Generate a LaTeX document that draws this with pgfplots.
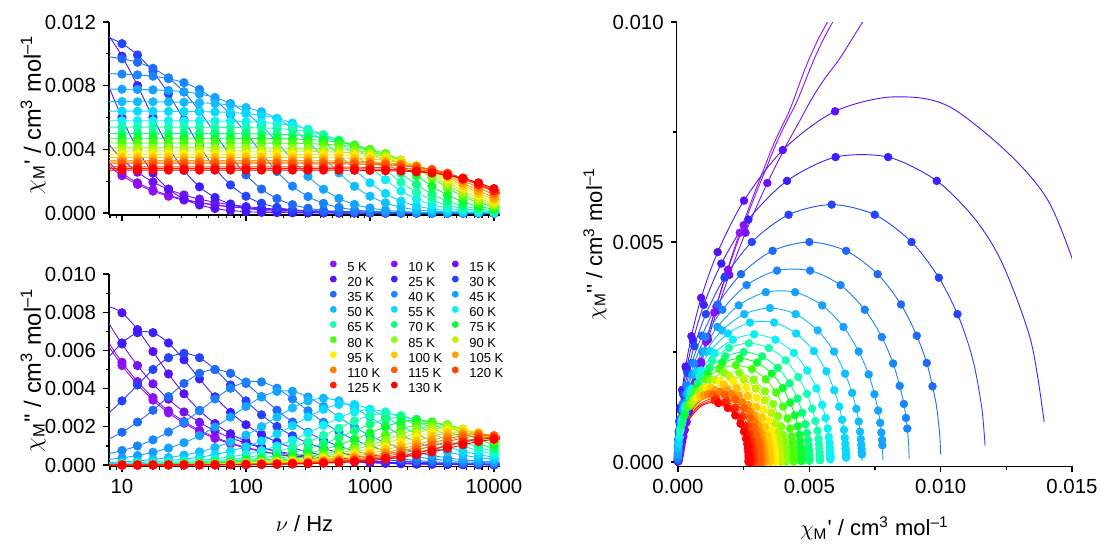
\documentclass[border=0pt]{standalone}
\usepackage{fontspec}
\setmainfont{Liberation Sans}
\usepackage{pgfplots}
\usepackage{pgfplotstable}
\pgfplotsset{compat=1.18}

\definecolor{cA}{Hsb}{276,0.93,0.95}
\definecolor{cB}{Hsb}{272,0.93,0.95}
\definecolor{cC}{Hsb}{266,0.93,0.96}
\definecolor{cD}{Hsb}{258,0.93,0.98}
\definecolor{cE}{Hsb}{248,0.88,1}
\definecolor{cF}{Hsb}{232,0.85,1}
\definecolor{cG}{Hsb}{220,0.87,0.98}
\definecolor{cH}{Hsb}{212,0.9,1}
\definecolor{cI}{Hsb}{204,0.92,1}
\definecolor{cJ}{Hsb}{197,0.93,1}
\definecolor{cK}{Hsb}{189,0.97,1}
\definecolor{cL}{Hsb}{180,0.95,0.95}
\definecolor{cM}{Hsb}{160,0.9,1}
\definecolor{cN}{Hsb}{148,0.95,1}
\definecolor{cO}{Hsb}{128,0.95,1}
\definecolor{cP}{Hsb}{105,0.95,1}
\definecolor{cQ}{Hsb}{90,0.95,1}
\definecolor{cR}{Hsb}{73,0.97,0.95}
\definecolor{cS}{Hsb}{56,1,1}
\definecolor{cT}{Hsb}{47,1,1}
\definecolor{cU}{Hsb}{38,1,1}
\definecolor{cV}{Hsb}{30,1,1}
\definecolor{cW}{Hsb}{22,1,1}
\definecolor{cX}{Hsb}{15,1,1}
\definecolor{cY}{Hsb}{8,1,1}
\definecolor{cZ}{Hsb}{0,1,1}

% columns: f = frequency (Hz), a = chi' , b = chi''  (cm3 mol-1)
\pgfplotstableread[row sep=\\]{f a b\\
1 0.01967 0.01751\\ 3.162 0.00717 0.01116\\ 5.623 0.0041 0.0078\\ 7.499 0.0031 0.0064\\
10 0.00235 0.00521\\ 13.34 0.0018 0.00422\\ 17.78 0.00138 0.0034\\ 23.71 0.00106 0.00273\\ 31.62 0.00082 0.00219\\
42.17 0.00064 0.00175\\ 56.23 0.0005 0.0014\\ 74.99 0.00039 0.00112\\ 100 0.00031 0.00089\\ 133.4 0.00024 0.00071\\
177.8 0.00019 0.00056\\ 237.1 0.00015 0.00045\\ 316.2 0.00012 0.00036\\ 421.7 0.00009 0.00028\\ 562.3 0.00007 0.00023\\
749.9 0.00006 0.00018\\ 1000 0.00005 0.00014\\ 1334 0.00004 0.00011\\ 1778 0.00003 0.00009\\ 2371 0.00002 0.00007\\
3162 0.00002 0.00006\\ 4217 0.00001 0.00005\\ 5623 0.00001 0.00004\\ 7499 0.00001 0.00003\\ 10000 0.00001 0.00002\\
13335 0.00001 0.00002\\ 17783 0 0.00001\\ 31623 0 0.00001\\ 100000 0 0\\ 1000000 0 0\\}\dA
\pgfplotstableread[row sep=\\]{f a b\\
1 0.02029 0.01686\\ 3.162 0.00762 0.01129\\ 5.623 0.00436 0.00799\\ 7.499 0.0033 0.00659\\
10 0.0025 0.00538\\ 13.34 0.0019 0.00437\\ 17.78 0.00146 0.00353\\ 23.71 0.00112 0.00284\\ 31.62 0.00087 0.00228\\
42.17 0.00067 0.00182\\ 56.23 0.00052 0.00146\\ 74.99 0.00041 0.00116\\ 100 0.00032 0.00093\\ 133.4 0.00025 0.00074\\
177.8 0.0002 0.00059\\ 237.1 0.00016 0.00047\\ 316.2 0.00012 0.00037\\ 421.7 0.0001 0.0003\\ 562.3 0.00008 0.00023\\
749.9 0.00006 0.00019\\ 1000 0.00005 0.00015\\ 1334 0.00004 0.00012\\ 1778 0.00003 0.00009\\ 2371 0.00002 0.00007\\
3162 0.00002 0.00006\\ 4217 0.00002 0.00005\\ 5623 0.00001 0.00004\\ 7499 0.00001 0.00003\\ 10000 0.00001 0.00002\\
13335 0.00001 0.00002\\ 17783 0 0.00001\\ 31623 0 0.00001\\ 100000 0 0\\ 1000000 0 0\\}\dB
\pgfplotstableread[row sep=\\]{f a b\\
1 0.02275 0.01368\\ 3.162 0.01013 0.01181\\ 5.623 0.00595 0.009\\ 7.499 0.0045 0.00761\\
10 0.0034 0.00634\\ 13.34 0.00257 0.00521\\ 17.78 0.00195 0.00425\\ 23.71 0.00149 0.00345\\ 31.62 0.00114 0.00278\\
42.17 0.00088 0.00224\\ 56.23 0.00068 0.00179\\ 74.99 0.00053 0.00143\\ 100 0.00041 0.00115\\ 133.4 0.00032 0.00091\\
177.8 0.00025 0.00073\\ 237.1 0.0002 0.00058\\ 316.2 0.00016 0.00046\\ 421.7 0.00012 0.00037\\ 562.3 0.0001 0.00029\\
749.9 0.00008 0.00023\\ 1000 0.00006 0.00018\\ 1334 0.00005 0.00015\\ 1778 0.00004 0.00012\\ 2371 0.00003 0.00009\\
3162 0.00002 0.00007\\ 4217 0.00002 0.00006\\ 5623 0.00002 0.00005\\ 7499 0.00001 0.00004\\ 10000 0.00001 0.00003\\
13335 0.00001 0.00002\\ 17783 0.00001 0.00002\\ 31623 0 0.00001\\ 100000 0 0\\ 1000000 0 0\\}\dC
\pgfplotstableread[row sep=\\]{f a b\\
1 0.01631 0.00217\\ 3.162 0.01409 0.00594\\ 5.623 0.01063 0.00797\\ 7.499 0.0083 0.0083\\
10 0.00598 0.00797\\ 13.34 0.00399 0.00709\\ 17.78 0.00251 0.00594\\ 23.71 0.00151 0.00477\\ 31.62 0.00088 0.00373\\
42.17 0.00051 0.00286\\ 56.23 0.00029 0.00217\\ 74.99 0.00016 0.00164\\ 100 0.00009 0.00124\\ 133.4 0.00005 0.00093\\
177.8 0.00003 0.0007\\ 237.1 0.00002 0.00052\\ 316.2 0.00001 0.00039\\ 421.7 0.00001 0.0003\\ 562.3 0 0.00022\\
749.9 0 0.00017\\ 1000 0 0.00012\\ 1334 0 0.00009\\ 1778 0 0.00007\\ 2371 0 0.00005\\
3162 0 0.00004\\ 4217 0 0.00003\\ 5623 0 0.00002\\ 7499 0 0.00002\\ 10000 0 0.00001\\
13335 0 0.00001\\ 17783 0 0.00001\\ 31623 0 0\\ 100000 0 0\\ 1000000 0 0\\}\dD
\pgfplotstableread[row sep=\\]{f a b\\
1 0.01394 0.00091\\ 3.162 0.01343 0.00276\\ 5.623 0.01235 0.00451\\ 7.499 0.01132 0.00551\\
10 0.00985 0.00639\\ 13.34 0.008 0.00693\\ 17.78 0.006 0.00693\\ 23.71 0.00415 0.00639\\ 31.62 0.00268 0.00551\\
42.17 0.00165 0.00451\\ 56.23 0.00098 0.00357\\ 74.99 0.00057 0.00276\\ 100 0.00032 0.00211\\ 133.4 0.00018 0.0016\\
177.8 0.0001 0.0012\\ 237.1 0.00006 0.00091\\ 316.2 0.00003 0.00068\\ 421.7 0.00002 0.00051\\ 562.3 0.00001 0.00038\\
749.9 0.00001 0.00029\\ 1000 0 0.00022\\ 1334 0 0.00016\\ 1778 0 0.00012\\ 2371 0 0.00009\\
3162 0 0.00007\\ 4217 0 0.00005\\ 5623 0 0.00004\\ 7499 0 0.00003\\ 10000 0 0.00002\\
13335 0 0.00002\\ 17783 0 0.00001\\ 31623 0 0.00001\\ 100000 0 0\\ 1000000 0 0\\}\dE
\pgfplotstableread[row sep=\\]{f a b\\
1 0.01169 0.00037\\ 3.162 0.01158 0.00116\\ 5.623 0.01134 0.00202\\ 7.499 0.01108 0.00263\\
10 0.01064 0.00336\\ 13.34 0.00993 0.00419\\ 17.78 0.00889 0.005\\ 23.71 0.00749 0.00562\\ 31.62 0.00585 0.00585\\
42.17 0.00421 0.00562\\ 56.23 0.00281 0.005\\ 74.99 0.00177 0.00419\\ 100 0.00106 0.00336\\ 133.4 0.00062 0.00263\\
177.8 0.00036 0.00202\\ 237.1 0.0002 0.00153\\ 316.2 0.00012 0.00116\\ 421.7 0.00007 0.00087\\ 562.3 0.00004 0.00066\\
749.9 0.00002 0.00049\\ 1000 0.00001 0.00037\\ 1334 0.00001 0.00028\\ 1778 0 0.00021\\ 2371 0 0.00016\\
3162 0 0.00012\\ 4217 0 0.00009\\ 5623 0 0.00007\\ 7499 0 0.00005\\ 10000 0 0.00004\\
13335 0 0.00003\\ 17783 0 0.00002\\ 31623 0 0.00001\\ 100000 0 0\\ 1000000 0 0\\}\dF
\pgfplotstableread[row sep=\\]{f a b\\
1 0.01 0.00018\\ 3.162 0.00997 0.00056\\ 5.623 0.0099 0.00099\\ 7.499 0.00983 0.00131\\
10 0.00969 0.00172\\ 13.34 0.00947 0.00225\\ 17.78 0.00909 0.00287\\ 23.71 0.00849 0.00358\\ 31.62 0.0076 0.00427\\
42.17 0.0064 0.0048\\ 56.23 0.005 0.005\\ 74.99 0.0036 0.0048\\ 100 0.0024 0.00427\\ 133.4 0.00151 0.00358\\
177.8 0.00091 0.00287\\ 237.1 0.00053 0.00225\\ 316.2 0.00031 0.00172\\ 421.7 0.00017 0.00131\\ 562.3 0.0001 0.00099\\
749.9 0.00006 0.00075\\ 1000 0.00003 0.00056\\ 1334 0.00002 0.00042\\ 1778 0.00001 0.00032\\ 2371 0.00001 0.00024\\
3162 0 0.00018\\ 4217 0 0.00013\\ 5623 0 0.0001\\ 7499 0 0.00008\\ 10000 0 0.00006\\
13335 0 0.00004\\ 17783 0 0.00003\\ 31623 0 0.00002\\ 100000 0 0.00001\\ 1000000 0 0\\}\dG
\pgfplotstableread[row sep=\\]{f a b\\
1 0.0088 0.00008\\ 3.162 0.00879 0.00024\\ 5.623 0.00878 0.00043\\ 7.499 0.00876 0.00057\\
10 0.00873 0.00076\\ 13.34 0.00868 0.001\\ 17.78 0.0086 0.00132\\ 23.71 0.00844 0.00173\\ 31.62 0.00819 0.00224\\
42.17 0.00776 0.00284\\ 56.23 0.00711 0.00346\\ 74.99 0.00619 0.00402\\ 100 0.00503 0.00435\\ 133.4 0.00377 0.00435\\
177.8 0.00261 0.00402\\ 237.1 0.00169 0.00346\\ 316.2 0.00104 0.00284\\ 421.7 0.00061 0.00224\\ 562.3 0.00036 0.00173\\
749.9 0.0002 0.00132\\ 1000 0.00012 0.001\\ 1334 0.00007 0.00076\\ 1778 0.00004 0.00057\\ 2371 0.00002 0.00043\\
3162 0.00001 0.00032\\ 4217 0.00001 0.00024\\ 5623 0 0.00018\\ 7499 0 0.00014\\ 10000 0 0.0001\\
13335 0 0.00008\\ 17783 0 0.00006\\ 31623 0 0.00003\\ 100000 0 0.00001\\ 1000000 0 0\\}\dH
\pgfplotstableread[row sep=\\]{f a b\\
1 0.0078 0.00004\\ 3.162 0.0078 0.00012\\ 5.623 0.00779 0.00021\\ 7.499 0.00779 0.00028\\
10 0.00778 0.00038\\ 13.34 0.00777 0.0005\\ 17.78 0.00774 0.00067\\ 23.71 0.0077 0.00089\\ 31.62 0.00762 0.00117\\
42.17 0.00748 0.00154\\ 56.23 0.00726 0.00199\\ 74.99 0.00688 0.00251\\ 100 0.0063 0.00307\\ 133.4 0.00549 0.00356\\
177.8 0.00446 0.00386\\ 237.1 0.00334 0.00386\\ 316.2 0.00231 0.00356\\ 421.7 0.0015 0.00307\\ 562.3 0.00092 0.00251\\
749.9 0.00054 0.00199\\ 1000 0.00032 0.00154\\ 1334 0.00018 0.00117\\ 1778 0.0001 0.00089\\ 2371 0.00006 0.00067\\
3162 0.00003 0.0005\\ 4217 0.00002 0.00038\\ 5623 0.00001 0.00028\\ 7499 0.00001 0.00021\\ 10000 0 0.00016\\
13335 0 0.00012\\ 17783 0 0.00009\\ 31623 0 0.00005\\ 100000 0 0.00002\\ 1000000 0 0\\}\dI
\pgfplotstableread[row sep=\\]{f a b\\
1 0.007 0.00002\\ 3.162 0.007 0.00005\\ 5.623 0.007 0.00009\\ 7.499 0.007 0.00012\\
10 0.007 0.00017\\ 13.34 0.00699 0.00022\\ 17.78 0.00699 0.0003\\ 23.71 0.00698 0.00039\\ 31.62 0.00696 0.00052\\
42.17 0.00693 0.00069\\ 56.23 0.00688 0.00092\\ 74.99 0.00679 0.00121\\ 100 0.00663 0.00157\\ 133.4 0.00636 0.00201\\
177.8 0.00594 0.00251\\ 237.1 0.00532 0.00299\\ 316.2 0.00448 0.00336\\ 421.7 0.0035 0.0035\\ 562.3 0.00252 0.00336\\
749.9 0.00168 0.00299\\ 1000 0.00106 0.00251\\ 1334 0.00064 0.00201\\ 1778 0.00037 0.00157\\ 2371 0.00021 0.00121\\
3162 0.00012 0.00092\\ 4217 0.00007 0.00069\\ 5623 0.00004 0.00052\\ 7499 0.00002 0.00039\\ 10000 0.00001 0.0003\\
13335 0.00001 0.00022\\ 17783 0 0.00017\\ 31623 0 0.00009\\ 100000 0 0.00003\\ 1000000 0 0\\}\dJ
\pgfplotstableread[row sep=\\]{f a b\\
1 0.0064 0.00001\\ 3.162 0.0064 0.00003\\ 5.623 0.0064 0.00006\\ 7.499 0.0064 0.00007\\
10 0.0064 0.0001\\ 13.34 0.0064 0.00013\\ 17.78 0.0064 0.00018\\ 23.71 0.00639 0.00023\\ 31.62 0.00638 0.00031\\
42.17 0.00637 0.00041\\ 56.23 0.00635 0.00055\\ 74.99 0.00632 0.00073\\ 100 0.00625 0.00096\\ 133.4 0.00614 0.00126\\
177.8 0.00595 0.00163\\ 237.1 0.00565 0.00206\\ 316.2 0.00517 0.00252\\ 421.7 0.0045 0.00292\\ 562.3 0.00366 0.00317\\
749.9 0.00274 0.00317\\ 1000 0.0019 0.00292\\ 1334 0.00123 0.00252\\ 1778 0.00075 0.00206\\ 2371 0.00045 0.00163\\
3162 0.00026 0.00126\\ 4217 0.00015 0.00096\\ 5623 0.00008 0.00073\\ 7499 0.00005 0.00055\\ 10000 0.00003 0.00041\\
13335 0.00002 0.00031\\ 17783 0.00001 0.00023\\ 31623 0 0.00013\\ 100000 0 0.00004\\ 1000000 0 0\\}\dK
\pgfplotstableread[row sep=\\]{f a b\\
1 0.0058 0.00001\\ 3.162 0.0058 0.00002\\ 5.623 0.0058 0.00003\\ 7.499 0.0058 0.00004\\
10 0.0058 0.00006\\ 13.34 0.0058 0.00008\\ 17.78 0.0058 0.0001\\ 23.71 0.0058 0.00014\\ 31.62 0.00579 0.00018\\
42.17 0.00579 0.00024\\ 56.23 0.00578 0.00033\\ 74.99 0.00577 0.00043\\ 100 0.00574 0.00057\\ 133.4 0.0057 0.00076\\
177.8 0.00562 0.001\\ 237.1 0.00549 0.0013\\ 316.2 0.00527 0.00167\\ 421.7 0.00492 0.00208\\ 562.3 0.00441 0.00248\\
749.9 0.00371 0.00278\\ 1000 0.0029 0.0029\\ 1334 0.00209 0.00278\\ 1778 0.00139 0.00248\\ 2371 0.00088 0.00208\\
3162 0.00053 0.00167\\ 4217 0.00031 0.0013\\ 5623 0.00018 0.001\\ 7499 0.0001 0.00076\\ 10000 0.00006 0.00057\\
13335 0.00003 0.00043\\ 17783 0.00002 0.00033\\ 31623 0.00001 0.00018\\ 100000 0 0.00006\\ 1000000 0 0\\}\dL
\pgfplotstableread[row sep=\\]{f a b\\
1 0.0054 0\\ 3.162 0.0054 0.00001\\ 5.623 0.0054 0.00002\\ 7.499 0.0054 0.00003\\
10 0.0054 0.00004\\ 13.34 0.0054 0.00005\\ 17.78 0.0054 0.00007\\ 23.71 0.0054 0.0001\\ 31.62 0.0054 0.00013\\
42.17 0.00539 0.00017\\ 56.23 0.00539 0.00023\\ 74.99 0.00538 0.0003\\ 100 0.00537 0.0004\\ 133.4 0.00535 0.00053\\
177.8 0.00531 0.00071\\ 237.1 0.00523 0.00093\\ 316.2 0.00511 0.00121\\ 421.7 0.00491 0.00155\\ 562.3 0.00458 0.00193\\
749.9 0.0041 0.00231\\ 1000 0.00346 0.00259\\ 1334 0.0027 0.0027\\ 1778 0.00194 0.00259\\ 2371 0.0013 0.00231\\
3162 0.00082 0.00193\\ 4217 0.00049 0.00155\\ 5623 0.00029 0.00121\\ 7499 0.00017 0.00093\\ 10000 0.00009 0.00071\\
13335 0.00005 0.00053\\ 17783 0.00003 0.0004\\ 31623 0.00001 0.00023\\ 100000 0 0.00007\\ 1000000 0 0\\}\dM
\pgfplotstableread[row sep=\\]{f a b\\
1 0.005 0\\ 3.162 0.005 0.00001\\ 5.623 0.005 0.00002\\ 7.499 0.005 0.00002\\
10 0.005 0.00003\\ 13.34 0.005 0.00004\\ 17.78 0.005 0.00005\\ 23.71 0.005 0.00007\\ 31.62 0.005 0.00009\\
42.17 0.005 0.00012\\ 56.23 0.005 0.00016\\ 74.99 0.00499 0.00021\\ 100 0.00498 0.00028\\ 133.4 0.00497 0.00037\\
177.8 0.00495 0.0005\\ 237.1 0.00491 0.00066\\ 316.2 0.00485 0.00086\\ 421.7 0.00473 0.00112\\ 562.3 0.00455 0.00144\\
749.9 0.00425 0.00179\\ 1000 0.0038 0.00214\\ 1334 0.0032 0.0024\\ 1778 0.0025 0.0025\\ 2371 0.0018 0.0024\\
3162 0.0012 0.00214\\ 4217 0.00075 0.00179\\ 5623 0.00045 0.00144\\ 7499 0.00027 0.00112\\ 10000 0.00015 0.00086\\
13335 0.00009 0.00066\\ 17783 0.00005 0.0005\\ 31623 0.00002 0.00028\\ 100000 0 0.00009\\ 1000000 0 0.00001\\}\dN
\pgfplotstableread[row sep=\\]{f a b\\
1 0.0047 0\\ 3.162 0.0047 0.00001\\ 5.623 0.0047 0.00001\\ 7.499 0.0047 0.00001\\
10 0.0047 0.00002\\ 13.34 0.0047 0.00003\\ 17.78 0.0047 0.00004\\ 23.71 0.0047 0.00005\\ 31.62 0.0047 0.00006\\
42.17 0.0047 0.00008\\ 56.23 0.0047 0.00011\\ 74.99 0.0047 0.00015\\ 100 0.00469 0.0002\\ 133.4 0.00469 0.00026\\
177.8 0.00467 0.00035\\ 237.1 0.00465 0.00047\\ 316.2 0.00462 0.00062\\ 421.7 0.00456 0.00081\\ 562.3 0.00445 0.00106\\
749.9 0.00427 0.00135\\ 1000 0.00399 0.00168\\ 1334 0.00357 0.00201\\ 1778 0.00301 0.00226\\ 2371 0.00235 0.00235\\
3162 0.00169 0.00226\\ 4217 0.00113 0.00201\\ 5623 0.00071 0.00168\\ 7499 0.00043 0.00135\\ 10000 0.00025 0.00106\\
13335 0.00014 0.00081\\ 17783 0.00008 0.00062\\ 31623 0.00003 0.00035\\ 100000 0 0.00011\\ 1000000 0 0.00001\\}\dO
\pgfplotstableread[row sep=\\]{f a b\\
1 0.0044 0\\ 3.162 0.0044 0\\ 5.623 0.0044 0.00001\\ 7.499 0.0044 0.00001\\
10 0.0044 0.00001\\ 13.34 0.0044 0.00002\\ 17.78 0.0044 0.00002\\ 23.71 0.0044 0.00003\\ 31.62 0.0044 0.00004\\
42.17 0.0044 0.00006\\ 56.23 0.0044 0.00008\\ 74.99 0.0044 0.0001\\ 100 0.0044 0.00014\\ 133.4 0.00439 0.00019\\
177.8 0.00439 0.00025\\ 237.1 0.00438 0.00033\\ 316.2 0.00436 0.00044\\ 421.7 0.00432 0.00058\\ 562.3 0.00427 0.00076\\
749.9 0.00417 0.00099\\ 1000 0.004 0.00126\\ 1334 0.00374 0.00158\\ 1778 0.00334 0.00188\\ 2371 0.00282 0.00211\\
3162 0.0022 0.0022\\ 4217 0.00158 0.00211\\ 5623 0.00106 0.00188\\ 7499 0.00066 0.00158\\ 10000 0.0004 0.00126\\
13335 0.00023 0.00099\\ 17783 0.00013 0.00076\\ 31623 0.00004 0.00044\\ 100000 0 0.00014\\ 1000000 0 0.00001\\}\dP
\pgfplotstableread[row sep=\\]{f a b\\
1 0.0041 0\\ 3.162 0.0041 0\\ 5.623 0.0041 0.00001\\ 7.499 0.0041 0.00001\\
10 0.0041 0.00001\\ 13.34 0.0041 0.00001\\ 17.78 0.0041 0.00002\\ 23.71 0.0041 0.00003\\ 31.62 0.0041 0.00004\\
42.17 0.0041 0.00005\\ 56.23 0.0041 0.00006\\ 74.99 0.0041 0.00008\\ 100 0.0041 0.00011\\ 133.4 0.00409 0.00015\\
177.8 0.00409 0.0002\\ 237.1 0.00408 0.00027\\ 316.2 0.00407 0.00035\\ 421.7 0.00405 0.00047\\ 562.3 0.004 0.00062\\
749.9 0.00393 0.00081\\ 1000 0.00381 0.00104\\ 1334 0.00362 0.00132\\ 1778 0.00331 0.00161\\ 2371 0.00288 0.00187\\
3162 0.00234 0.00203\\ 4217 0.00176 0.00203\\ 5623 0.00122 0.00187\\ 7499 0.00079 0.00161\\ 10000 0.00048 0.00132\\
13335 0.00029 0.00104\\ 17783 0.00017 0.00081\\ 31623 0.00005 0.00047\\ 100000 0.00001 0.00015\\ 1000000 0 0.00001\\}\dQ
\pgfplotstableread[row sep=\\]{f a b\\
1 0.0039 0\\ 3.162 0.0039 0\\ 5.623 0.0039 0.00001\\ 7.499 0.0039 0.00001\\
10 0.0039 0.00001\\ 13.34 0.0039 0.00001\\ 17.78 0.0039 0.00002\\ 23.71 0.0039 0.00002\\ 31.62 0.0039 0.00003\\
42.17 0.0039 0.00004\\ 56.23 0.0039 0.00005\\ 74.99 0.0039 0.00007\\ 100 0.0039 0.00009\\ 133.4 0.0039 0.00012\\
177.8 0.00389 0.00016\\ 237.1 0.00389 0.00022\\ 316.2 0.00388 0.00029\\ 421.7 0.00386 0.00039\\ 562.3 0.00383 0.00051\\
749.9 0.00378 0.00067\\ 1000 0.00369 0.00088\\ 1334 0.00355 0.00112\\ 1778 0.00331 0.0014\\ 2371 0.00296 0.00167\\
3162 0.0025 0.00187\\ 4217 0.00195 0.00195\\ 5623 0.0014 0.00187\\ 7499 0.00094 0.00167\\ 10000 0.00059 0.0014\\
13335 0.00035 0.00112\\ 17783 0.00021 0.00088\\ 31623 0.00007 0.00051\\ 100000 0.00001 0.00016\\ 1000000 0 0.00002\\}\dR
\pgfplotstableread[row sep=\\]{f a b\\
1 0.0037 0\\ 3.162 0.0037 0\\ 5.623 0.0037 0\\ 7.499 0.0037 0.00001\\
10 0.0037 0.00001\\ 13.34 0.0037 0.00001\\ 17.78 0.0037 0.00001\\ 23.71 0.0037 0.00002\\ 31.62 0.0037 0.00002\\
42.17 0.0037 0.00003\\ 56.23 0.0037 0.00004\\ 74.99 0.0037 0.00006\\ 100 0.0037 0.00008\\ 133.4 0.0037 0.0001\\
177.8 0.0037 0.00014\\ 237.1 0.00369 0.00018\\ 316.2 0.00368 0.00024\\ 421.7 0.00367 0.00032\\ 562.3 0.00365 0.00042\\
749.9 0.00361 0.00056\\ 1000 0.00355 0.00073\\ 1334 0.00344 0.00094\\ 1778 0.00326 0.00119\\ 2371 0.00299 0.00146\\
3162 0.0026 0.00169\\ 4217 0.00211 0.00183\\ 5623 0.00159 0.00183\\ 7499 0.0011 0.00169\\ 10000 0.00071 0.00146\\
13335 0.00044 0.00119\\ 17783 0.00026 0.00094\\ 31623 0.00009 0.00056\\ 100000 0.00001 0.00018\\ 1000000 0 0.00002\\}\dS
\pgfplotstableread[row sep=\\]{f a b\\
1 0.0035 0\\ 3.162 0.0035 0\\ 5.623 0.0035 0\\ 7.499 0.0035 0\\
10 0.0035 0.00001\\ 13.34 0.0035 0.00001\\ 17.78 0.0035 0.00001\\ 23.71 0.0035 0.00001\\ 31.62 0.0035 0.00002\\
42.17 0.0035 0.00003\\ 56.23 0.0035 0.00004\\ 74.99 0.0035 0.00005\\ 100 0.0035 0.00006\\ 133.4 0.0035 0.00008\\
177.8 0.0035 0.00011\\ 237.1 0.00349 0.00015\\ 316.2 0.00349 0.0002\\ 421.7 0.00348 0.00026\\ 562.3 0.00347 0.00035\\
749.9 0.00344 0.00046\\ 1000 0.00339 0.0006\\ 1334 0.00331 0.00079\\ 1778 0.00318 0.00101\\ 2371 0.00297 0.00125\\
3162 0.00266 0.0015\\ 4217 0.00224 0.00168\\ 5623 0.00175 0.00175\\ 7499 0.00126 0.00168\\ 10000 0.00084 0.0015\\
13335 0.00053 0.00125\\ 17783 0.00032 0.00101\\ 31623 0.00011 0.0006\\ 100000 0.00001 0.0002\\ 1000000 0 0.00002\\}\dT
\pgfplotstableread[row sep=\\]{f a b\\
1 0.0033 0\\ 3.162 0.0033 0\\ 5.623 0.0033 0\\ 7.499 0.0033 0\\
10 0.0033 0.00001\\ 13.34 0.0033 0.00001\\ 17.78 0.0033 0.00001\\ 23.71 0.0033 0.00001\\ 31.62 0.0033 0.00002\\
42.17 0.0033 0.00002\\ 56.23 0.0033 0.00003\\ 74.99 0.0033 0.00004\\ 100 0.0033 0.00005\\ 133.4 0.0033 0.00007\\
177.8 0.0033 0.00009\\ 237.1 0.0033 0.00012\\ 316.2 0.00329 0.00016\\ 421.7 0.00329 0.00021\\ 562.3 0.00328 0.00028\\
749.9 0.00326 0.00038\\ 1000 0.00322 0.0005\\ 1334 0.00317 0.00065\\ 1778 0.00307 0.00084\\ 2371 0.00291 0.00106\\
3162 0.00267 0.0013\\ 4217 0.00232 0.00151\\ 5623 0.00189 0.00163\\ 7499 0.00141 0.00163\\ 10000 0.00098 0.00151\\
13335 0.00063 0.0013\\ 17783 0.00039 0.00106\\ 31623 0.00013 0.00065\\ 100000 0.00001 0.00021\\ 1000000 0 0.00002\\}\dU
\pgfplotstableread[row sep=\\]{f a b\\
1 0.0032 0\\ 3.162 0.0032 0\\ 5.623 0.0032 0\\ 7.499 0.0032 0\\
10 0.0032 0\\ 13.34 0.0032 0.00001\\ 17.78 0.0032 0.00001\\ 23.71 0.0032 0.00001\\ 31.62 0.0032 0.00001\\
42.17 0.0032 0.00002\\ 56.23 0.0032 0.00002\\ 74.99 0.0032 0.00003\\ 100 0.0032 0.00004\\ 133.4 0.0032 0.00006\\
177.8 0.0032 0.00008\\ 237.1 0.0032 0.0001\\ 316.2 0.00319 0.00013\\ 421.7 0.00319 0.00018\\ 562.3 0.00318 0.00024\\
749.9 0.00317 0.00032\\ 1000 0.00314 0.00042\\ 1334 0.0031 0.00055\\ 1778 0.00303 0.00072\\ 2371 0.00291 0.00092\\
3162 0.00272 0.00115\\ 4217 0.00243 0.00137\\ 5623 0.00205 0.00154\\ 7499 0.0016 0.0016\\ 10000 0.00115 0.00154\\
13335 0.00077 0.00137\\ 17783 0.00048 0.00115\\ 31623 0.00017 0.00072\\ 100000 0.00002 0.00024\\ 1000000 0 0.00002\\}\dV
\pgfplotstableread[row sep=\\]{f a b\\
1 0.0031 0\\ 3.162 0.0031 0\\ 5.623 0.0031 0\\ 7.499 0.0031 0\\
10 0.0031 0\\ 13.34 0.0031 0\\ 17.78 0.0031 0.00001\\ 23.71 0.0031 0.00001\\ 31.62 0.0031 0.00001\\
42.17 0.0031 0.00002\\ 56.23 0.0031 0.00002\\ 74.99 0.0031 0.00003\\ 100 0.0031 0.00004\\ 133.4 0.0031 0.00005\\
177.8 0.0031 0.00006\\ 237.1 0.0031 0.00008\\ 316.2 0.0031 0.00011\\ 421.7 0.00309 0.00015\\ 562.3 0.00309 0.0002\\
749.9 0.00308 0.00027\\ 1000 0.00306 0.00035\\ 1334 0.00303 0.00047\\ 1778 0.00297 0.00061\\ 2371 0.00288 0.00079\\
3162 0.00274 0.001\\ 4217 0.00251 0.00122\\ 5623 0.00218 0.00142\\ 7499 0.00177 0.00153\\ 10000 0.00133 0.00153\\
13335 0.00092 0.00142\\ 17783 0.00059 0.00122\\ 31623 0.00022 0.00079\\ 100000 0.00002 0.00027\\ 1000000 0 0.00003\\}\dW
\pgfplotstableread[row sep=\\]{f a b\\
1 0.0029 0\\ 3.162 0.0029 0\\ 5.623 0.0029 0\\ 7.499 0.0029 0\\
10 0.0029 0\\ 13.34 0.0029 0\\ 17.78 0.0029 0.00001\\ 23.71 0.0029 0.00001\\ 31.62 0.0029 0.00001\\
42.17 0.0029 0.00001\\ 56.23 0.0029 0.00002\\ 74.99 0.0029 0.00002\\ 100 0.0029 0.00003\\ 133.4 0.0029 0.00004\\
177.8 0.0029 0.00005\\ 237.1 0.0029 0.00007\\ 316.2 0.0029 0.00009\\ 421.7 0.00289 0.00012\\ 562.3 0.00289 0.00016\\
749.9 0.00288 0.00022\\ 1000 0.00287 0.00029\\ 1334 0.00285 0.00038\\ 1778 0.00281 0.0005\\ 2371 0.00275 0.00065\\
3162 0.00264 0.00083\\ 4217 0.00246 0.00104\\ 5623 0.0022 0.00124\\ 7499 0.00186 0.00139\\ 10000 0.00145 0.00145\\
13335 0.00104 0.00139\\ 17783 0.0007 0.00124\\ 31623 0.00026 0.00083\\ 100000 0.00003 0.00029\\ 1000000 0 0.00003\\}\dX
\pgfplotstableread[row sep=\\]{f a b\\
1 0.0028 0\\ 3.162 0.0028 0\\ 5.623 0.0028 0\\ 7.499 0.0028 0\\
10 0.0028 0\\ 13.34 0.0028 0\\ 17.78 0.0028 0\\ 23.71 0.0028 0.00001\\ 31.62 0.0028 0.00001\\
42.17 0.0028 0.00001\\ 56.23 0.0028 0.00002\\ 74.99 0.0028 0.00002\\ 100 0.0028 0.00003\\ 133.4 0.0028 0.00004\\
177.8 0.0028 0.00005\\ 237.1 0.0028 0.00007\\ 316.2 0.0028 0.00009\\ 421.7 0.0028 0.00012\\ 562.3 0.00279 0.00016\\
749.9 0.00278 0.00021\\ 1000 0.00277 0.00028\\ 1334 0.00275 0.00037\\ 1778 0.00271 0.00048\\ 2371 0.00265 0.00063\\
3162 0.00255 0.0008\\ 4217 0.00238 0.001\\ 5623 0.00213 0.0012\\ 7499 0.00179 0.00134\\ 10000 0.0014 0.0014\\
13335 0.00101 0.00134\\ 17783 0.00067 0.0012\\ 31623 0.00025 0.0008\\ 100000 0.00003 0.00028\\ 1000000 0 0.00003\\}\dY
\pgfplotstableread[row sep=\\]{f a b\\
1 0.0027 0\\ 3.162 0.0027 0\\ 5.623 0.0027 0\\ 7.499 0.0027 0\\
10 0.0027 0\\ 13.34 0.0027 0\\ 17.78 0.0027 0\\ 23.71 0.0027 0.00001\\ 31.62 0.0027 0.00001\\
42.17 0.0027 0.00001\\ 56.23 0.0027 0.00001\\ 74.99 0.0027 0.00002\\ 100 0.0027 0.00002\\ 133.4 0.0027 0.00003\\
177.8 0.0027 0.00004\\ 237.1 0.0027 0.00006\\ 316.2 0.0027 0.00007\\ 421.7 0.0027 0.0001\\ 562.3 0.00269 0.00013\\
749.9 0.00269 0.00017\\ 1000 0.00268 0.00023\\ 1334 0.00266 0.00031\\ 1778 0.00264 0.00041\\ 2371 0.00259 0.00053\\
3162 0.00251 0.00069\\ 4217 0.00238 0.00087\\ 5623 0.00218 0.00106\\ 7499 0.0019 0.00123\\ 10000 0.00154 0.00134\\
13335 0.00116 0.00134\\ 17783 0.0008 0.00123\\ 31623 0.00032 0.00087\\ 100000 0.00004 0.00031\\ 1000000 0 0.00003\\}\dZ

\pgfplotsset{
  fitline/.style={line width=0.45pt, smooth, mark=none},
  datamarks/.style={only marks, mark=*, mark size=2.1pt, mark options={draw=none},
    skip coords between index={0}{4}, skip coords between index={29}{34}},
  mypanel/.style={scale only axis, scaled x ticks=false, scaled y ticks=false,
    axis x line*=bottom, axis y line*=left,
    axis line style={-, line width=0.75pt, black},
    tick align=outside, major tick length=3pt, minor tick length=1.7pt,
    tick style={line width=0.6pt, black},
    tick label style={font=\fontsize{10.2}{12}\selectfont},
    label style={font=\fontsize{11}{13}\selectfont}},
}
\newcommand\Fq[3]{\addplot[#2,fitline,forget plot] table[x=f,y=#3]{#1};\addplot[#2,datamarks,forget plot] table[x=f,y=#3]{#1};}
\newcommand\Fl[2]{\addplot[#2,fitline,forget plot] table[x=f,y=b]{#1};\addplot[#2,datamarks] table[x=f,y=b]{#1};}
\newcommand\Cc[2]{\addplot[#2,fitline,forget plot] table[x=a,y=b]{#1};\addplot[#2,datamarks,mark size=1.9pt,forget plot] table[x=a,y=b]{#1};}
\newcommand\lk[1]{\makebox[27.5pt][l]{\hspace{5.5pt}#1~K}}

\begin{document}
\begin{tikzpicture}
\path[use as bounding box] (0pt,0pt) rectangle (550pt,271.5pt);

% ---------- chi' vs frequency ----------
\begin{axis}[xmode=log, mypanel, at={(54.5pt,164pt)}, anchor=south west,
  width=195.5pt, height=96.5pt, xmin=7.857, xmax=11180, ymin=-0.00012, ymax=0.012,
  xtick={10,100,1000,10000}, xticklabels={{},{},{},{}},
  minor xtick={8,9,20,30,40,50,60,70,80,90,200,300,400,500,600,700,800,900,2000,3000,4000,5000,6000,7000,8000,9000},
  ytick={0,0.004,0.008,0.012}, yticklabels={0.000,0.004,0.008,0.012},
  minor ytick={0.002,0.006,0.010},
  ylabel={$\chi$\textsubscript{M}\textquotesingle{} / cm\textsuperscript{3} mol\textsuperscript{–1}},
  ylabel style={at={(axis description cs:-0.194,0.52)}, anchor=center, font=\fontsize{11.8}{13}\selectfont}]
\Fq{\dA}{cA}{a}\Fq{\dB}{cB}{a}\Fq{\dC}{cC}{a}\Fq{\dD}{cD}{a}\Fq{\dE}{cE}{a}\Fq{\dF}{cF}{a}
\Fq{\dG}{cG}{a}\Fq{\dH}{cH}{a}\Fq{\dI}{cI}{a}\Fq{\dJ}{cJ}{a}\Fq{\dK}{cK}{a}\Fq{\dL}{cL}{a}
\Fq{\dM}{cM}{a}\Fq{\dN}{cN}{a}\Fq{\dO}{cO}{a}\Fq{\dP}{cP}{a}\Fq{\dQ}{cQ}{a}\Fq{\dR}{cR}{a}
\Fq{\dS}{cS}{a}\Fq{\dT}{cT}{a}\Fq{\dU}{cU}{a}\Fq{\dV}{cV}{a}\Fq{\dW}{cW}{a}\Fq{\dX}{cX}{a}
\Fq{\dY}{cY}{a}\Fq{\dZ}{cZ}{a}
\end{axis}

% ---------- chi'' vs frequency ----------
\begin{axis}[xmode=log, mypanel, at={(54.5pt,38.3pt)}, anchor=south west,
  width=195.5pt, height=96.2pt, xmin=7.857, xmax=11180, ymin=-0.00007, ymax=0.010,
  xtick={10,100,1000,10000}, xticklabels={10,100,1000,10000},
  minor xtick={8,9,20,30,40,50,60,70,80,90,200,300,400,500,600,700,800,900,2000,3000,4000,5000,6000,7000,8000,9000},
  ytick={0,0.002,0.004,0.006,0.008,0.010}, yticklabels={0.000,0.002,0.004,0.006,0.008,0.010},
  minor ytick={0.001,0.003,0.005,0.007,0.009},
  xlabel={$\nu$ / Hz},
  xlabel style={at={(axis description cs:0.5,-0.295)}, anchor=center},
  ylabel={$\chi$\textsubscript{M}\textquotesingle\textquotesingle{} / cm\textsuperscript{3} mol\textsuperscript{–1}},
  ylabel style={at={(axis description cs:-0.194,0.5)}, anchor=center, font=\fontsize{11.8}{13}\selectfont},
  legend columns=3, legend cell align=left,
  legend image code/.code={\draw[#1, mark size=1.5pt] plot coordinates {(0pt,2.2pt)};},
  legend style={at={(axis description cs:0.565,1.07)}, anchor=north west,
    draw=none, fill=none, inner sep=0pt, nodes={inner sep=0pt},
    font=\fontsize{6.5}{7}\selectfont, row sep=0.85pt, column sep=0pt,
    /tikz/every odd column/.append style={column sep=0pt},
    /tikz/every even column/.append style={column sep=0pt}}]
\Fl{\dA}{cA}\Fl{\dB}{cB}\Fl{\dC}{cC}\Fl{\dD}{cD}\Fl{\dE}{cE}\Fl{\dF}{cF}
\Fl{\dG}{cG}\Fl{\dH}{cH}\Fl{\dI}{cI}\Fl{\dJ}{cJ}\Fl{\dK}{cK}\Fl{\dL}{cL}
\Fl{\dM}{cM}\Fl{\dN}{cN}\Fl{\dO}{cO}\Fl{\dP}{cP}\Fl{\dQ}{cQ}\Fl{\dR}{cR}
\Fl{\dS}{cS}\Fl{\dT}{cT}\Fl{\dU}{cU}\Fl{\dV}{cV}\Fl{\dW}{cW}\Fl{\dX}{cX}
\Fl{\dY}{cY}\Fl{\dZ}{cZ}
\legend{\lk{5},\lk{10},\lk{15},\lk{20},\lk{25},\lk{30},\lk{35},\lk{40},\lk{45},\lk{50},\lk{55},\lk{60},\lk{65},\lk{70},\lk{75},\lk{80},\lk{85},\lk{90},\lk{95},\lk{100},\lk{105},\lk{110},\lk{115},\lk{120},\lk{125},\lk{130}}
\end{axis}

% ---------- Cole-Cole ----------
\begin{axis}[mypanel, at={(338.35pt,38.3pt)}, anchor=south west,
  width=197.65pt, height=222.2pt,
  xmin=-0.00005, xmax=0.015, ymin=-0.0001, ymax=0.010,
  xtick={0,0.005,0.010,0.015}, xticklabels={0.000,0.005,0.010,0.015},
  minor xtick={0.0025,0.0075,0.0125},
  ytick={0,0.005,0.010}, yticklabels={0.000,0.005,0.010},
  minor ytick={0.0025,0.0075},
  xlabel={$\chi$\textsubscript{M}\textquotesingle{} / cm\textsuperscript{3} mol\textsuperscript{–1}},
  xlabel style={at={(axis description cs:0.5,-0.14)}, anchor=center},
  ylabel={$\chi$\textsubscript{M}\textquotesingle\textquotesingle{} / cm\textsuperscript{3} mol\textsuperscript{–1}},
  ylabel style={at={(axis description cs:-0.207,0.5)}, anchor=center}]
\Cc{\dA}{cA}\Cc{\dB}{cB}\Cc{\dC}{cC}\Cc{\dD}{cD}\Cc{\dE}{cE}\Cc{\dF}{cF}
\Cc{\dG}{cG}\Cc{\dH}{cH}\Cc{\dI}{cI}\Cc{\dJ}{cJ}\Cc{\dK}{cK}\Cc{\dL}{cL}
\Cc{\dM}{cM}\Cc{\dN}{cN}\Cc{\dO}{cO}\Cc{\dP}{cP}\Cc{\dQ}{cQ}\Cc{\dR}{cR}
\Cc{\dS}{cS}\Cc{\dT}{cT}\Cc{\dU}{cU}\Cc{\dV}{cV}\Cc{\dW}{cW}\Cc{\dX}{cX}
\Cc{\dY}{cY}\Cc{\dZ}{cZ}
\end{axis}
\end{tikzpicture}
\end{document}
